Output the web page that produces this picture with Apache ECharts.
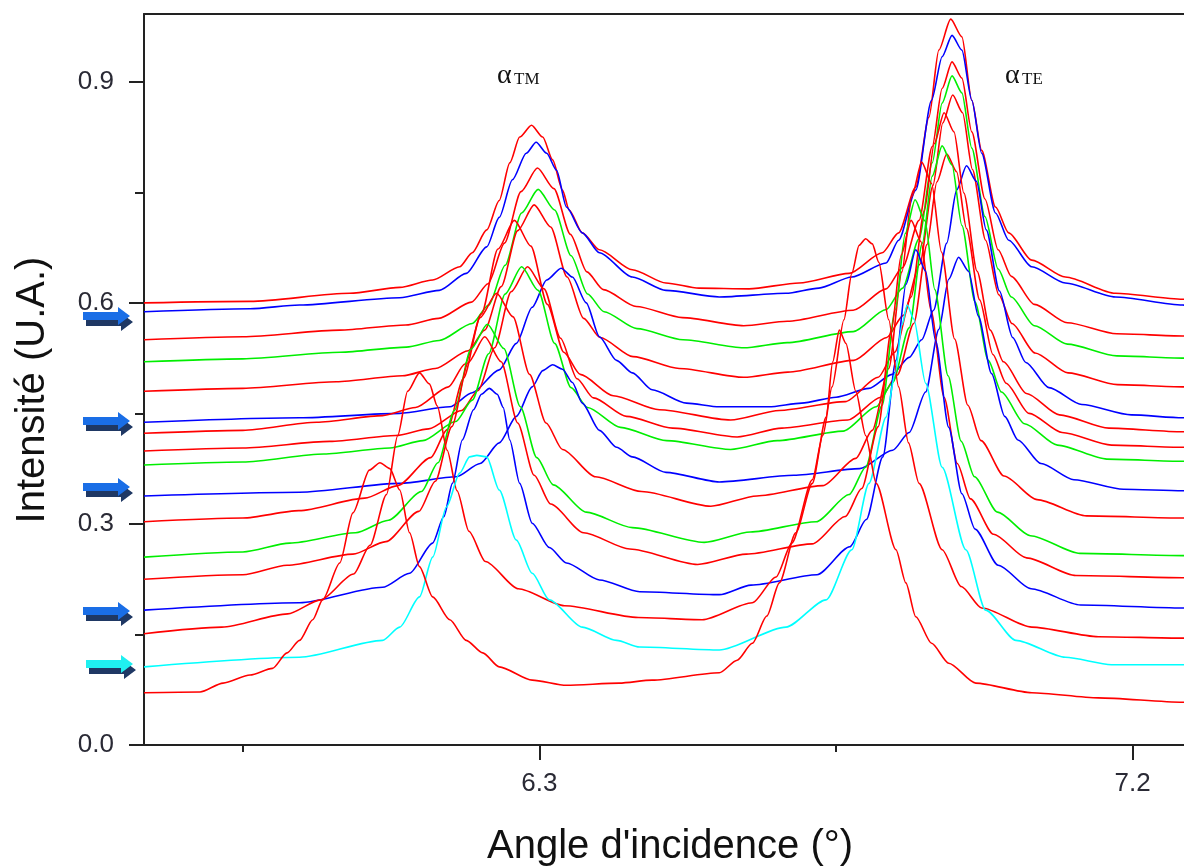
<!DOCTYPE html>
<html><head><meta charset="utf-8">
<script src="https://cdn.jsdelivr.net/npm/echarts@6/dist/echarts.min.js"></script>
<style>html,body{margin:0;padding:0;background:#fff}#c{width:1184px;height:866px}</style>
</head><body><div id="c"></div>
<script>
// ---- data: [angle (deg), intensity (a.u.)] ----
const c01 = [[5.700,0.600],[5.861,0.602],[6.012,0.613],[6.088,0.621],[6.138,0.631],[6.179,0.649],[6.198,0.668],[6.220,0.699],[6.239,0.739],[6.255,0.790],[6.270,0.825],[6.288,0.841],[6.305,0.825],[6.320,0.794],[6.335,0.753],[6.345,0.726],[6.365,0.695],[6.391,0.672],[6.441,0.645],[6.492,0.627],[6.542,0.620],[6.618,0.619],[6.694,0.627],[6.770,0.640],[6.820,0.668],[6.845,0.695],[6.871,0.757],[6.891,0.852],[6.906,0.943],[6.924,0.985],[6.941,0.961],[6.956,0.875],[6.971,0.807],[6.992,0.730],[7.012,0.695],[7.047,0.658],[7.098,0.635],[7.174,0.613],[7.276,0.605],[7.350,0.604]];
const c02 = [[5.700,0.588],[5.861,0.592],[5.936,0.597],[6.088,0.607],[6.148,0.617],[6.189,0.640],[6.220,0.676],[6.239,0.716],[6.259,0.767],[6.280,0.803],[6.295,0.818],[6.311,0.803],[6.326,0.780],[6.341,0.730],[6.365,0.695],[6.391,0.668],[6.441,0.635],[6.492,0.617],[6.573,0.608],[6.674,0.613],[6.724,0.620],[6.774,0.635],[6.826,0.654],[6.845,0.685],[6.871,0.753],[6.895,0.875],[6.911,0.934],[6.926,0.963],[6.941,0.943],[6.956,0.875],[6.971,0.803],[6.992,0.722],[7.012,0.685],[7.047,0.649],[7.098,0.627],[7.174,0.608],[7.276,0.597],[7.350,0.596]];
const c03 = [[5.700,0.550],[5.850,0.554],[5.997,0.563],[6.097,0.570],[6.147,0.579],[6.197,0.601],[6.222,0.626],[6.247,0.681],[6.272,0.751],[6.297,0.783],[6.322,0.755],[6.347,0.693],[6.372,0.642],[6.397,0.618],[6.447,0.595],[6.517,0.580],[6.610,0.569],[6.676,0.575],[6.776,0.590],[6.826,0.619],[6.851,0.648],[6.876,0.712],[6.896,0.812],[6.911,0.891],[6.926,0.927],[6.941,0.905],[6.956,0.832],[6.976,0.741],[6.996,0.672],[7.016,0.636],[7.051,0.598],[7.101,0.573],[7.176,0.558],[7.276,0.555],[7.350,0.555]];
const c04 = [[5.700,0.520],[5.850,0.524],[5.998,0.533],[6.098,0.540],[6.148,0.549],[6.198,0.572],[6.223,0.597],[6.248,0.651],[6.273,0.722],[6.298,0.754],[6.323,0.726],[6.348,0.664],[6.373,0.612],[6.398,0.588],[6.448,0.565],[6.518,0.550],[6.610,0.539],[6.676,0.546],[6.776,0.561],[6.826,0.591],[6.851,0.620],[6.876,0.687],[6.896,0.790],[6.911,0.871],[6.926,0.908],[6.941,0.885],[6.956,0.810],[6.976,0.717],[6.996,0.646],[7.016,0.608],[7.051,0.569],[7.101,0.544],[7.176,0.528],[7.276,0.525],[7.350,0.525]];
const c05 = [[5.700,0.480],[5.850,0.484],[5.992,0.493],[6.092,0.501],[6.142,0.511],[6.192,0.535],[6.217,0.563],[6.242,0.622],[6.267,0.698],[6.292,0.733],[6.317,0.703],[6.342,0.635],[6.367,0.579],[6.392,0.553],[6.442,0.527],[6.512,0.511],[6.610,0.499],[6.677,0.506],[6.777,0.522],[6.827,0.553],[6.852,0.583],[6.877,0.652],[6.897,0.759],[6.912,0.844],[6.927,0.882],[6.942,0.858],[6.957,0.781],[6.977,0.685],[6.997,0.611],[7.017,0.572],[7.052,0.532],[7.102,0.505],[7.177,0.489],[7.276,0.486],[7.350,0.486]];
const c06 = [[5.700,0.438],[5.936,0.444],[6.088,0.450],[6.164,0.459],[6.198,0.478],[6.239,0.509],[6.265,0.545],[6.289,0.594],[6.311,0.631],[6.333,0.647],[6.350,0.635],[6.371,0.600],[6.391,0.554],[6.417,0.522],[6.441,0.505],[6.471,0.482],[6.523,0.464],[6.573,0.459],[6.648,0.459],[6.698,0.464],[6.750,0.472],[6.800,0.484],[6.835,0.503],[6.861,0.526],[6.880,0.550],[6.898,0.590],[6.918,0.681],[6.933,0.753],[6.948,0.786],[6.963,0.765],[6.978,0.699],[6.998,0.616],[7.018,0.553],[7.038,0.519],[7.073,0.485],[7.123,0.462],[7.198,0.448],[7.276,0.444],[7.350,0.444]];
const c07 = [[5.700,0.423],[5.850,0.427],[5.962,0.438],[6.062,0.447],[6.112,0.458],[6.162,0.486],[6.187,0.517],[6.212,0.585],[6.237,0.673],[6.262,0.712],[6.287,0.677],[6.312,0.598],[6.337,0.533],[6.362,0.503],[6.412,0.474],[6.482,0.455],[6.590,0.441],[6.664,0.454],[6.764,0.466],[6.814,0.499],[6.839,0.533],[6.864,0.608],[6.884,0.725],[6.899,0.816],[6.914,0.858],[6.929,0.832],[6.944,0.749],[6.964,0.643],[6.984,0.563],[7.004,0.520],[7.039,0.477],[7.089,0.448],[7.164,0.430],[7.276,0.425],[7.350,0.425]];
const c08 = [[5.700,0.399],[5.850,0.403],[5.982,0.412],[6.082,0.420],[6.132,0.429],[6.182,0.454],[6.207,0.481],[6.232,0.539],[6.257,0.615],[6.282,0.649],[6.307,0.619],[6.332,0.552],[6.357,0.497],[6.382,0.471],[6.432,0.446],[6.502,0.430],[6.600,0.418],[6.668,0.430],[6.768,0.441],[6.818,0.472],[6.843,0.502],[6.868,0.572],[6.888,0.679],[6.903,0.764],[6.918,0.802],[6.933,0.778],[6.948,0.701],[6.968,0.604],[6.988,0.530],[7.008,0.491],[7.043,0.450],[7.093,0.424],[7.168,0.407],[7.276,0.404],[7.350,0.404]];
const c09 = [[5.700,0.380],[5.850,0.384],[5.973,0.395],[6.073,0.403],[6.123,0.413],[6.173,0.439],[6.198,0.468],[6.223,0.531],[6.248,0.612],[6.273,0.649],[6.298,0.617],[6.323,0.545],[6.348,0.485],[6.373,0.458],[6.423,0.431],[6.493,0.413],[6.590,0.401],[6.661,0.413],[6.761,0.426],[6.811,0.459],[6.836,0.492],[6.861,0.566],[6.881,0.681],[6.896,0.772],[6.911,0.813],[6.926,0.787],[6.941,0.705],[6.961,0.601],[6.981,0.522],[7.001,0.479],[7.036,0.436],[7.086,0.407],[7.161,0.388],[7.276,0.385],[7.350,0.385]];
const c10 = [[5.700,0.338],[5.936,0.343],[6.088,0.355],[6.174,0.364],[6.210,0.382],[6.239,0.410],[6.265,0.446],[6.289,0.486],[6.305,0.508],[6.320,0.516],[6.335,0.510],[6.350,0.492],[6.365,0.464],[6.391,0.427],[6.417,0.404],[6.441,0.391],[6.492,0.370],[6.573,0.357],[6.686,0.366],[6.786,0.375],[6.836,0.400],[6.861,0.424],[6.886,0.479],[6.906,0.564],[6.921,0.632],[6.936,0.662],[6.951,0.643],[6.966,0.582],[6.986,0.504],[7.006,0.446],[7.026,0.414],[7.061,0.382],[7.111,0.360],[7.186,0.347],[7.276,0.345],[7.350,0.345]];
const c11 = [[5.700,0.303],[5.850,0.308],[5.935,0.318],[6.035,0.335],[6.085,0.352],[6.135,0.390],[6.160,0.428],[6.185,0.498],[6.210,0.580],[6.235,0.613],[6.260,0.581],[6.285,0.503],[6.310,0.437],[6.335,0.401],[6.385,0.364],[6.455,0.344],[6.560,0.324],[6.630,0.338],[6.730,0.352],[6.780,0.389],[6.805,0.427],[6.830,0.511],[6.850,0.642],[6.865,0.744],[6.880,0.791],[6.895,0.762],[6.910,0.669],[6.930,0.551],[6.950,0.461],[6.970,0.413],[7.005,0.365],[7.055,0.333],[7.130,0.311],[7.276,0.308],[7.350,0.308]];
const c12 = [[5.700,0.255],[5.850,0.262],[5.921,0.274],[6.021,0.288],[6.071,0.305],[6.121,0.344],[6.146,0.383],[6.171,0.454],[6.196,0.537],[6.221,0.571],[6.246,0.538],[6.271,0.459],[6.296,0.390],[6.321,0.353],[6.371,0.316],[6.441,0.295],[6.550,0.275],[6.620,0.289],[6.720,0.303],[6.770,0.340],[6.795,0.377],[6.820,0.461],[6.840,0.591],[6.855,0.694],[6.870,0.740],[6.885,0.711],[6.900,0.618],[6.920,0.501],[6.940,0.412],[6.960,0.364],[6.995,0.316],[7.045,0.284],[7.120,0.260],[7.276,0.257],[7.350,0.257]];
const c13 = [[5.700,0.225],[5.850,0.231],[5.917,0.244],[6.017,0.259],[6.067,0.276],[6.117,0.317],[6.142,0.358],[6.167,0.432],[6.192,0.519],[6.217,0.554],[6.242,0.520],[6.267,0.437],[6.292,0.366],[6.317,0.327],[6.367,0.288],[6.437,0.266],[6.540,0.245],[6.614,0.259],[6.714,0.273],[6.764,0.310],[6.789,0.348],[6.814,0.432],[6.834,0.563],[6.849,0.665],[6.864,0.712],[6.879,0.683],[6.894,0.590],[6.914,0.472],[6.934,0.382],[6.954,0.334],[6.989,0.286],[7.039,0.254],[7.114,0.230],[7.276,0.227],[7.350,0.227]];
const c14 = [[5.700,0.183],[5.936,0.193],[6.062,0.214],[6.103,0.233],[6.138,0.274],[6.155,0.310],[6.168,0.355],[6.183,0.414],[6.200,0.455],[6.212,0.476],[6.224,0.484],[6.236,0.476],[6.245,0.458],[6.255,0.414],[6.270,0.355],[6.289,0.301],[6.315,0.268],[6.341,0.247],[6.391,0.224],[6.452,0.208],[6.573,0.204],[6.621,0.217],[6.721,0.231],[6.771,0.269],[6.796,0.306],[6.821,0.391],[6.841,0.522],[6.856,0.625],[6.871,0.672],[6.886,0.643],[6.901,0.549],[6.921,0.431],[6.941,0.341],[6.961,0.293],[6.996,0.244],[7.046,0.212],[7.121,0.190],[7.276,0.186],[7.350,0.186]];
const c15 = [[5.700,0.151],[5.818,0.160],[5.918,0.178],[5.968,0.197],[6.018,0.232],[6.043,0.271],[6.068,0.340],[6.085,0.420],[6.100,0.480],[6.118,0.505],[6.133,0.490],[6.145,0.460],[6.160,0.400],[6.175,0.345],[6.193,0.290],[6.218,0.249],[6.268,0.212],[6.338,0.189],[6.450,0.173],[6.547,0.170],[6.623,0.193],[6.659,0.228],[6.683,0.274],[6.714,0.360],[6.730,0.420],[6.744,0.486],[6.762,0.577],[6.774,0.640],[6.785,0.678],[6.795,0.687],[6.805,0.680],[6.815,0.655],[6.830,0.577],[6.845,0.486],[6.860,0.410],[6.876,0.355],[6.911,0.265],[6.940,0.215],[6.971,0.186],[7.047,0.160],[7.148,0.147],[7.276,0.145],[7.350,0.145]];
const c16 = [[5.700,0.106],[5.936,0.119],[6.062,0.142],[6.088,0.160],[6.118,0.201],[6.138,0.255],[6.159,0.323],[6.179,0.369],[6.194,0.391],[6.205,0.393],[6.220,0.391],[6.239,0.346],[6.265,0.278],[6.289,0.233],[6.315,0.197],[6.365,0.160],[6.417,0.142],[6.452,0.133],[6.573,0.129],[6.674,0.160],[6.735,0.197],[6.774,0.265],[6.800,0.355],[6.826,0.445],[6.840,0.505],[6.850,0.570],[6.858,0.597],[6.868,0.578],[6.886,0.491],[6.911,0.377],[6.947,0.265],[6.977,0.183],[7.023,0.142],[7.098,0.119],[7.168,0.109],[7.276,0.109],[7.350,0.109]];
const c17 = [[5.700,0.071],[5.785,0.072],[5.820,0.084],[5.861,0.095],[5.895,0.104],[5.917,0.125],[5.936,0.142],[5.956,0.170],[5.971,0.197],[5.997,0.247],[6.017,0.315],[6.042,0.373],[6.058,0.383],[6.073,0.375],[6.088,0.346],[6.103,0.288],[6.118,0.242],[6.138,0.201],[6.164,0.170],[6.189,0.142],[6.214,0.125],[6.239,0.106],[6.289,0.088],[6.341,0.081],[6.421,0.084],[6.471,0.088],[6.573,0.098],[6.600,0.115],[6.623,0.138],[6.645,0.175],[6.664,0.220],[6.689,0.288],[6.714,0.355],[6.735,0.445],[6.745,0.520],[6.755,0.563],[6.765,0.545],[6.780,0.480],[6.795,0.420],[6.811,0.355],[6.841,0.265],[6.856,0.220],[6.871,0.174],[6.895,0.138],[6.921,0.111],[6.962,0.084],[7.047,0.071],[7.148,0.064],[7.276,0.058],[7.350,0.056]];

const curves = [c01,c02,c03,c04,c05,c06,c07,c08,c09,c10,c11,c12,c13,c14,c15,c16,c17];
const curveColors = ['red','blue','red','green','red','blue','red','red','green','blue','red','green','red','blue','red','cyan','red'];
const xMajorTicks = [6.3, 7.2];
const xMinorTicks = [5.85, 6.75];
const yMajorTicks = [0, 0.3, 0.6, 0.9];
const yMinorTicks = [0.15, 0.45, 0.75];
const xTitle = "Angle d'incidence (°)";
const yTitle = "Intensité (U.A.)";

// ---- styling ----
const palette = {red:'#ff0000', blue:'#0000ff', green:'#00ee00', cyan:'#00ffff'};
const AX = '#222';
const chart = echarts.init(document.getElementById('c'), null, {renderer:'canvas', width:1184, height:866});

function arrow(cy, x0, fill) {
  const body = (dx, dy) => [[x0+dx, cy-4+dy],[x0+35+dx, cy-4+dy],[x0+35+dx, cy-9+dy],[x0+47+dx, cy+dy],[x0+35+dx, cy+9+dy],[x0+35+dx, cy+4+dy],[x0+dx, cy+4+dy]];
  return [
    {type:'polygon', shape:{points: body(3,6)}, style:{fill:'#1f3864'}, z:10},
    {type:'polygon', shape:{points: body(0,0)}, style:{fill: fill}, z:11}
  ];
}

const graphics = [].concat(
  arrow(316, 83, '#1a6ee6'),
  arrow(421, 83, '#1a6ee6'),
  arrow(487, 83, '#1a6ee6'),
  arrow(611, 83, '#1a6ee6'),
  arrow(664, 86, '#1ff0f0'),
  [
    {type:'text', x:670, y:847, style:{text:xTitle, font:'40px "Liberation Sans", Arial, sans-serif', fill:'#111', align:'center', verticalAlign:'middle', textAlign:'center', textVerticalAlign:'middle'}, z:20},
    {type:'text', x:33, y:390, rotation:Math.PI/2, style:{text:yTitle, font:'40px "Liberation Sans", Arial, sans-serif', fill:'#111', align:'center', verticalAlign:'middle', textAlign:'center', textVerticalAlign:'middle'}, z:20},
    {type:'text', x:497, y:76, style:{text:'α', font:'28px "Liberation Serif", "DejaVu Serif", serif', fill:'#111', align:'left', verticalAlign:'middle', textAlign:'left', textVerticalAlign:'middle'}, z:20},
    {type:'text', x:514, y:80, style:{text:'TM', font:'17px "Liberation Serif", "DejaVu Serif", serif', fill:'#111', align:'left', verticalAlign:'middle', textAlign:'left', textVerticalAlign:'middle'}, z:20},
    {type:'text', x:1005, y:76, style:{text:'α', font:'28px "Liberation Serif", "DejaVu Serif", serif', fill:'#111', align:'left', verticalAlign:'middle', textAlign:'left', textVerticalAlign:'middle'}, z:20},
    {type:'text', x:1022, y:80, style:{text:'TE', font:'17px "Liberation Serif", "DejaVu Serif", serif', fill:'#111', align:'left', verticalAlign:'middle', textAlign:'left', textVerticalAlign:'middle'}, z:20}
  ]
);

const labelFont = {fontFamily:'"Liberation Sans", Arial, sans-serif', fontSize:26, color:'#2a2a35'};
const X_MIN = 5.7, X_MAX = 7.278, Y_MIN = 0, Y_MAX = 0.992;

const option = {
  animation:false,
  backgroundColor:'#fff',
  grid:{left:144, top:14, right:0, bottom:121, show:false, outerBoundsMode:'none'},
  xAxis:[
    {type:'value', min:X_MIN, max:X_MAX, position:'bottom',
     axisLine:{show:true, onZero:false, lineStyle:{color:AX, width:2}},
     axisTick:{show:true, customValues:xMajorTicks, length:15, inside:false, lineStyle:{color:AX, width:2}},
     axisLabel:{show:true, customValues:xMajorTicks, margin:26, formatter:v=>v.toFixed(1), ...labelFont},
     splitLine:{show:false}},
    {type:'value', min:X_MIN, max:X_MAX, position:'bottom',
     axisLine:{show:false, onZero:false},
     axisTick:{show:true, customValues:xMinorTicks, length:7, lineStyle:{color:AX, width:2}},
     axisLabel:{show:false}, splitLine:{show:false}},
    {type:'value', min:X_MIN, max:X_MAX, position:'top',
     axisLine:{show:true, onZero:false, lineStyle:{color:AX, width:2}},
     axisTick:{show:false}, axisLabel:{show:false}, splitLine:{show:false}}
  ],
  yAxis:[
    {type:'value', min:Y_MIN, max:Y_MAX, position:'left',
     axisLine:{show:true, onZero:false, lineStyle:{color:AX, width:2}},
     axisTick:{show:true, customValues:yMajorTicks, length:15, lineStyle:{color:AX, width:2}},
     axisLabel:{show:true, customValues:yMajorTicks, margin:30, formatter:v=>v.toFixed(1), ...labelFont},
     splitLine:{show:false}},
    {type:'value', min:Y_MIN, max:Y_MAX, position:'left',
     axisLine:{show:false, onZero:false},
     axisTick:{show:true, customValues:yMinorTicks, length:9, lineStyle:{color:AX, width:2}},
     axisLabel:{show:false}, splitLine:{show:false}}
  ],
  series: curves.map((d, i) => ({
    type:'line', data:d, xAxisIndex:0, yAxisIndex:0,
    symbol:'none', showSymbol:false, smooth:0.25, smoothMonotone:'x',
    lineStyle:{width:1.6, color:palette[curveColors[i]]},
    itemStyle:{color:palette[curveColors[i]]},
    silent:true, clip:true
  })),
  graphic: graphics
};
chart.setOption(option);
</script>
</body></html>
